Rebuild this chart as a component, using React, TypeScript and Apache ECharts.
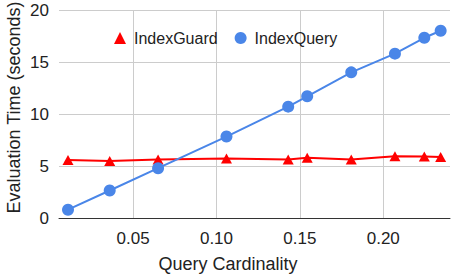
import React, { useEffect, useRef } from "react";
import * as echarts from "echarts";

const cardinality = [0.011, 0.036, 0.065, 0.106, 0.143, 0.1544, 0.1808, 0.207, 0.2246, 0.2344];
const indexGuard = [5.6, 5.5, 5.63, 5.73, 5.63, 5.8, 5.63, 5.96, 5.93, 5.87];
const indexQuery = [0.8, 2.65, 4.8, 7.85, 10.73, 11.73, 14.04, 15.84, 17.37, 18.05];
const seriesNames = ["IndexGuard", "IndexQuery"];
const xTitle = "Query Cardinality";
const yTitle = "Evaluation Time (seconds)";

const FONT = "'Liberation Sans', Arial, sans-serif";

export default function App() {
  const ref = useRef<HTMLDivElement>(null);
  useEffect(() => {
    if (!ref.current) return;
    const chart = echarts.init(ref.current, undefined, { renderer: "svg" });
    const pairs = (ys: number[]) => cardinality.map((x, i) => [x, ys[i]]);
    chart.setOption({
      animation: false,
      backgroundColor: "#ffffff",
      textStyle: { fontFamily: FONT },
      grid: { left: 59, top: 10.5, right: 6, bottom: 57, containLabel: false },
      legend: {
        left: 109,
        top: 25,
        itemWidth: 12,
        itemHeight: 12,
        itemGap: 17,
        textStyle: { fontSize: 16, color: "#222222", fontFamily: FONT, padding: [0, 0, 0, 3] },
        data: [
          { name: seriesNames[0], icon: "triangle" },
          { name: seriesNames[1], icon: "circle" },
        ],
      },
      xAxis: {
        type: "value",
        min: 0.0056,
        max: 0.24,
        splitNumber: 5,
        axisLine: { show: true, onZero: false, lineStyle: { color: "#333333", width: 1 } },
        axisTick: { show: false },
        axisLabel: {
          fontSize: 17,
          color: "#222222",
          margin: 12,
          showMinLabel: false,
          showMaxLabel: false,
          formatter: (v: number) => v.toFixed(2),
        },
        splitLine: { show: true, showMinLine: false, showMaxLine: false, lineStyle: { color: "#cccccc", width: 1 } },
      },
      yAxis: {
        type: "value",
        min: 0,
        max: 20,
        interval: 5,
        axisLine: { show: false },
        axisTick: { show: false },
        axisLabel: { fontSize: 17, color: "#222222", margin: 10 },
        splitLine: { show: true, lineStyle: { color: "#cccccc", width: 1 } },
      },
      graphic: [
        {
          type: "text",
          x: 228,
          y: 264,
          style: { text: xTitle, fontSize: 18, fill: "#222222", fontFamily: FONT, align: "center", verticalAlign: "middle" },
        },
        {
          type: "text",
          x: 14,
          y: 107.5,
          rotation: Math.PI / 2,
          style: { text: yTitle, fontSize: 18, fill: "#222222", fontFamily: FONT, align: "center", verticalAlign: "middle" },
        },
      ],
      series: [
        {
          name: seriesNames[0],
          type: "line",
          data: pairs(indexGuard),
          symbol: "triangle",
          symbolSize: [11, 10],
          color: "#ff0000",
          lineStyle: { width: 2, color: "#ff0000" },
          itemStyle: { color: "#ff0000" },
          z: 2,
        },
        {
          name: seriesNames[1],
          type: "line",
          data: pairs(indexQuery),
          symbol: "circle",
          symbolSize: 12,
          color: "#4a86e8",
          lineStyle: { width: 2, color: "#4a86e8" },
          itemStyle: { color: "#4a86e8" },
          z: 3,
        },
      ],
    });
    return () => chart.dispose();
  }, []);
  return <div ref={ref} style={{ width: 456, height: 275, position: "absolute", left: 0, top: 0 }} />;
}
